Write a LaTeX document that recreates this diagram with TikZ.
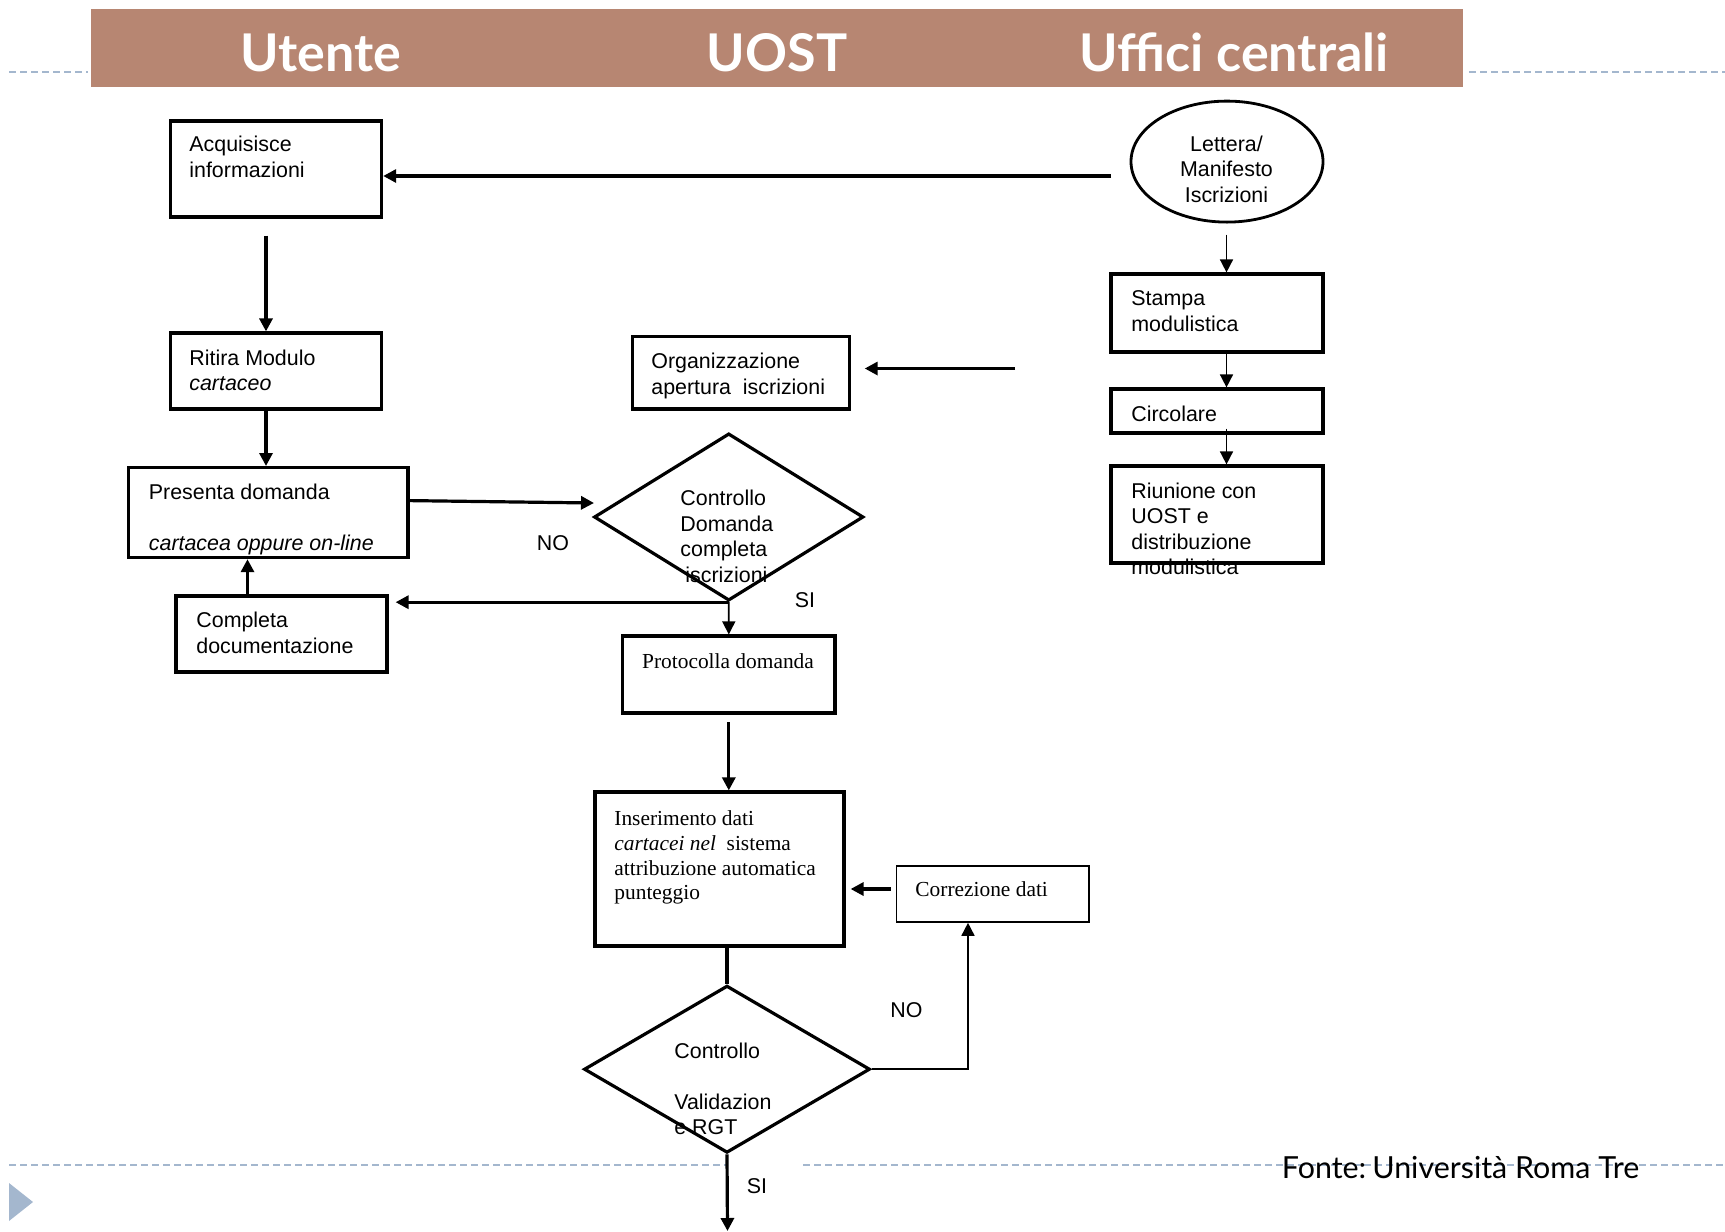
\documentclass[tikz,border=0pt]{standalone}
\usepackage{fontspec}
\setmainfont{Liberation Sans}
\newfontfamily\seriffont{Liberation Serif}
\newfontfamily\titlefont{Lato}
\usetikzlibrary{shapes.geometric,arrows.meta}
\definecolor{bandbrown}{HTML}{B78672}
\definecolor{ruleblue}{HTML}{A4B7CE}
\begin{document}
\begin{tikzpicture}[x=0.5pt,y=-0.5pt,
  box/.style={draw,line width=1.6pt,inner sep=0pt},
  thinbox/.style={draw,line width=0.8pt,inner sep=0pt},
  decision/.style={draw,line width=1.6pt,shape=diamond,inner sep=0pt},
  % multi-line labels are placed by the baseline of their last line
  txt/.style={anchor=base west,align=left,inner sep=0pt,font=\fontsize{10.7}{12.8}\selectfont},
  rtxt/.style={anchor=base west,align=left,inner sep=0pt,font=\seriffont\fontsize{10.7}{12.4}\selectfont},
  lbl/.style={inner sep=0pt,font=\fontsize{10.7}{12.8}\selectfont},
  hdr/.style={anchor=base,inner sep=0pt,text=white,font=\titlefont\bfseries\fontsize{26}{30}\selectfont},
  arr/.style={line width=1.6pt,-{Triangle[length=6.5pt,width=6.5pt]}},
  tarr/.style={line width=0.8pt,-{Triangle[length=6.5pt,width=6.5pt]}},
  link/.style={line width=1.6pt},
  rule/.style={ruleblue,line width=1pt,dash pattern=on 3.3pt off 2.2pt}]
\useasboundingbox (0,0) rectangle (1725,1232);

% slide rules and marker
\draw[rule] (9,71.5) -- (88,71.5);
\draw[rule] (1469,71.5) -- (1725,71.5);
\draw[rule] (9,1165) -- (726,1165);
\draw[rule] (803,1165) -- (1725,1165);
\fill[ruleblue] (9,1183) -- (33,1202) -- (9,1221) -- cycle;

% lane header band
\fill[bandbrown] (91,9) rectangle (1463,87);
\node[hdr] (hU) at (321,71.5) {Utente};
\node[hdr] (hO) at (777,71.5) {UOST};
\node[hdr] (hC) at (1234,71.5) {Uffici centrali};

% Utente lane
\node[box,minimum width=105.6pt,minimum height=48pt] (acq) at (276,169) {};
\node[txt] (acqt) at (189,177.1) {Acquisisce\\informazioni};
\node[box,minimum width=105.6pt,minimum height=38pt] (rit) at (276,371) {};
\node[txt] (ritt) at (189,390.6) {Ritira Modulo\\\textit{cartaceo}};
\node[box,minimum width=139.6pt,minimum height=45pt] (pres) at (268.4,512.6) {};
\node[txt] (prest) at (148.5,550.2) {Presenta domanda\\[12.8pt]\textit{cartacea oppure on-line}};
\node[box,minimum width=105.5pt,minimum height=38pt] (comp) at (281.5,634) {};
\node[txt] (compt) at (196,653.1) {Completa\\documentazione};

% UOST lane
\node[box,minimum width=108.3pt,minimum height=36.2pt] (org) at (740.8,372.8) {};
\node[txt] (orgt) at (651,394.1) {Organizzazione\\apertura~ iscrizioni};
\node[decision,minimum width=134.75pt,minimum height=83.6pt] (dia1) at (728.75,517) {};
\node[txt] (dia1t) at (680,582.3) {Controllo\\Domanda\\completa\\\hspace*{2.5pt}iscrizioni};
\node[box,minimum width=106.2pt,minimum height=38.5pt] (prot) at (728.8,674.5) {};
\node[rtxt,anchor=base] (prott) at (728,668.5) {Protocolla domanda};
\node[box,minimum width=124.5pt,minimum height=77pt] (ins) at (719.5,869) {};
\node[rtxt] (inst) at (614,899.9) {Inserimento dati\\\textit{cartacei nel}~ sistema\\attribuzione automatica\\punteggio};
\node[thinbox,minimum width=96.25pt,minimum height=28pt] (corr) at (992.75,894) {};
\node[rtxt] (corrt) at (915,896.5) {Correzione dati};
\node[decision,minimum width=143pt,minimum height=83.6pt] (dia2) at (727,1069.2) {};
\node[txt] (dia2t) at (674,1134.8) {Controllo\\[12.8pt]Validazion\\e RGT};

% Uffici centrali lane
\node[draw,line width=1.4pt,shape=ellipse,inner sep=0pt,minimum width=96pt,minimum height=60.5pt] (lett) at (1227,161.6) {};
\node[lbl,align=center,anchor=base] (lettt) at (1226.5,202.2) {Lettera/\\Manifesto\\Iscrizioni};
\node[box,minimum width=106pt,minimum height=39pt] (stampa) at (1217,313) {};
\node[txt] (stampat) at (1131,331.1) {Stampa\\modulistica};
\node[box,minimum width=106pt,minimum height=22pt] (circ) at (1217,411) {};
\node[txt] (circt) at (1131,421) {Circolare};
\node[txt] (riunt) at (1131,574.8) {Riunione con\\UOST e\\distribuzione\\modulistica};
\node[box,minimum width=106pt,minimum height=48.5pt] (riun) at (1217,514.5) {};

% branch labels and source
\node[lbl] (no1) at (553,543) {NO};
\node[lbl] (si1) at (805,600.6) {SI};
\node[lbl] (no2) at (906.4,1010) {NO};
\node[lbl] (si2) at (757,1186) {SI};
\node[anchor=west,inner sep=0pt,font=\titlefont\fontsize{15.2}{18}\selectfont] (src) at (1281.5,1168) {Fonte:\hspace{0.2em}Università Roma Tre};

% helper coordinates for connector columns and free ends
\coordinate (colA) at (266,0);
\coordinate (colB) at (247.5,0);
\coordinate (colC) at (968,0);
\coordinate (colD) at (1226.5,0);
\coordinate (lettout) at (1111,176);
\coordinate (orgin) at (1015,368.5);
\coordinate (diain) at (594,503);
\coordinate (corrout) at ([yshift=2.5pt]corr.west);
\coordinate (circout) at ([yshift=3pt]circ.south -| colD);
\coordinate (flowend) at (727.5,1231);

% connectors
\draw[arr] (lettout) -- (lettout -| acq.east);
\draw[arr,shorten <=8.5pt] (acq.south -| colA) -- (rit.north -| colA);
\draw[arr] (rit.south -| colA) -- (pres.north -| colA);
\draw[arr] ([yshift=6pt]pres.east) -- (diain);
\draw[arr,shorten >=3.5pt] (dia1.south) -- (dia1.south -| comp.east);
\draw[arr] (comp.north -| colB) -- (pres.south -| colB);
\draw[tarr] (dia1.south) -- (prot.north);
\draw[arr,shorten <=3.75pt] (prot.south) -- (prot.south |- ins.north);
\draw[link] (ins.south -| dia2.north) -- (dia2.north);
\draw[arr,shorten <=2.5pt,shorten >=2.5pt] (corrout) -- (corrout -| ins.east);
\draw[tarr] (dia2.east) -| (corr.south -| colC);
\draw[arr] (dia2.south) -- (flowend);
\draw[arr,shorten >=7pt] (orgin) -- (orgin -| org.east);
\draw[tarr,shorten <=5.5pt] (lett.south -| colD) -- (stampa.north -| colD);
\draw[tarr] (stampa.south -| colD) -- (circ.north -| colD);
\draw[tarr] (circout) -- (riun.north -| colD);
\end{tikzpicture}
\end{document}
